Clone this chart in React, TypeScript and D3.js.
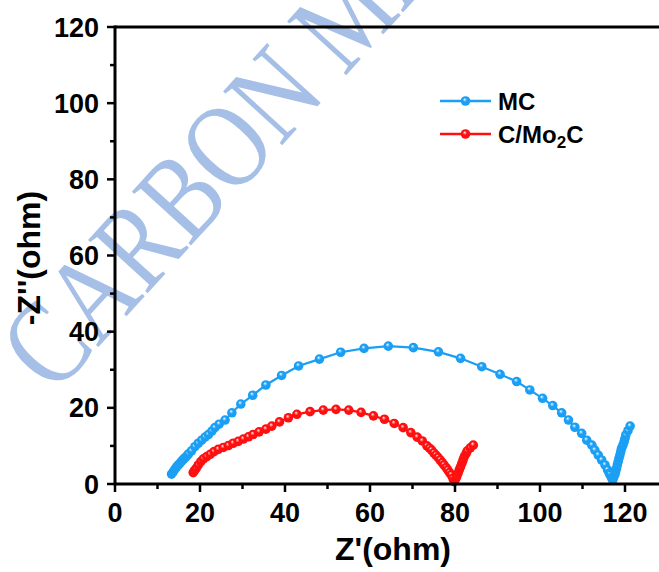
import React from "react";
import * as d3 from "d3";

const mcZre = [13.3,13.7,14.1,14.5,14.9,15.3,15.7,16.1,16.5,16.9,17.3,18.0,18.8,19.6,20.4,21.2,22.0,22.8,23.5,24.5,25.9,27.5,29.6,32.4,35.5,39.2,43.2,48.1,53.1,58.6,64.3,70.2,76.1,81.3,86.3,90.6,94.5,97.6,100.6,103.0,105.1,106.7,108.2,109.8,111.0,112.2,112.9,113.7,114.5,115.3,115.9,116.3,116.5,116.8,117.1,117.3,117.6,117.8,118.0,118.2,118.4,118.6,118.8,119.0,119.2,119.5,119.8,120.0,120.2,120.7,121.2];
const mcZim = [2.6,3.2,3.9,4.5,5.0,5.5,6.0,6.5,6.9,7.4,7.9,8.7,9.8,10.7,11.5,12.3,13.0,13.9,14.8,15.7,16.8,18.7,21.0,23.3,26.0,28.5,31.0,32.8,34.6,35.6,36.2,35.8,34.7,33.0,30.8,28.8,26.9,24.7,22.5,20.6,18.7,16.8,14.9,13.3,11.5,10.2,8.9,7.6,6.3,5.0,3.7,2.8,2.4,1.7,1.0,1.7,2.4,3.2,4.1,5.0,5.9,6.8,7.6,8.5,9.4,10.2,11.1,12.0,12.9,14.0,15.2];

const cmZre = [18.4,18.7,19.1,19.6,20.2,20.8,21.6,22.4,23.3,24.3,25.5,26.7,27.8,29.0,30.2,31.4,32.5,33.9,35.5,36.9,38.7,40.8,42.8,45.9,49.0,52.0,55.0,57.9,60.8,63.4,65.7,67.8,69.6,71.1,72.3,73.4,74.0,74.5,75.0,75.5,76.0,76.5,77.0,77.4,77.9,78.3,78.7,79.1,79.5,79.8,80.1,80.4,80.7,81.0,81.3,81.6,81.9,82.2,82.6,82.9,83.6,84.3];
const cmZim = [3.0,3.5,4.1,5.0,5.9,6.6,7.2,7.8,8.5,9.1,9.6,10.1,10.7,11.2,11.8,12.4,13.0,13.7,14.4,15.2,16.3,17.4,18.3,19.0,19.4,19.6,19.4,18.8,17.9,17.0,15.9,14.8,13.5,12.3,11.3,10.0,9.4,8.9,8.2,7.6,7.0,6.3,5.6,5.0,4.3,3.7,3.0,2.4,1.5,0.6,1.2,1.9,2.8,3.7,4.5,5.4,6.3,7.2,8.0,8.7,9.5,10.2];

const xMajor = [0, 20, 40, 60, 80, 100, 120];
const xMinor = [10, 30, 50, 70, 90, 110];
const yMajor = [0, 20, 40, 60, 80, 100, 120];
const yMinor = [10, 30, 50, 70, 90, 110];

const seriesNames = ["MC", "C/Mo2C"];
const seriesColors = ["#1a9ff5", "#ff1010"];
const seriesLight = ["#9fd8ff", "#ff9c9c"];

const W = 659, H = 572;
const FONT = "Arial, 'Liberation Sans', sans-serif";

export default function App() {
  const x = d3.scaleLinear().domain([0, 130]).range([115, 667.5]);
  const y = d3.scaleLinear().domain([0, 120]).range([484, 27]);
  const line = d3.line<[number, number]>().x(d => x(d[0])).y(d => y(d[1]));

  const series = [
    mcZre.map((v, i) => [v, mcZim[i]] as [number, number]),
    cmZre.map((v, i) => [v, cmZim[i]] as [number, number]),
  ];

  const axisW = 3;
  return (
    <svg width={W} height={H} style={{ position: "fixed", left: 0, top: 0, background: "#fff" }}>
      <defs>
        {seriesColors.map((c, i) => (
          <radialGradient key={i} id={`ball${i}`} cx="50%" cy="50%" r="55%" fx="40%" fy="32%">
            <stop offset="0%" stopColor="#ffffff" />
            <stop offset="14%" stopColor={seriesLight[i]} />
            <stop offset="40%" stopColor={c} />
            <stop offset="100%" stopColor={c} />
          </radialGradient>
        ))}
      </defs>
      <rect width={W} height={H} fill="#fff" />
      {/* watermark */}
      <text
        x={0}
        y={0}
        transform="translate(54,396) rotate(-47.7) scale(0.8,1)"
        fontFamily="'Liberation Serif', 'Times New Roman', serif"
        fontSize={122}
        fill="#a6bfe6"
      >
        CARBON  MATERIALS
      </text>

      {/* series */}
      {series.map((pts, si) => (
        <g key={si}>
          <path d={line(pts) || ""} fill="none" stroke={seriesColors[si]} strokeWidth={2.2} />
          {pts.map((p, i) => (
            <circle key={i} cx={x(p[0])} cy={y(p[1])} r={4.8} fill={`url(#ball${si})`} />
          ))}
        </g>
      ))}

      {/* axes */}
      <line x1={x(0)} x2={W + 10} y1={y(120)} y2={y(120)} stroke="#000" strokeWidth={axisW} />
      <line x1={x(0)} x2={W + 10} y1={y(0)} y2={y(0)} stroke="#000" strokeWidth={axisW} />
      <line x1={x(0)} x2={x(0)} y1={y(120) - 1.5} y2={y(0) + 1.5} stroke="#000" strokeWidth={axisW} />
      {xMajor.map(v => (
        <line key={"xM" + v} x1={x(v)} x2={x(v)} y1={y(0)} y2={y(0) + 8} stroke="#000" strokeWidth={2.5} />
      ))}
      {xMinor.map(v => (
        <line key={"xm" + v} x1={x(v)} x2={x(v)} y1={y(0)} y2={y(0) + 5} stroke="#000" strokeWidth={2.5} />
      ))}
      {yMajor.map(v => (
        <line key={"yM" + v} x1={x(0) - 8} x2={x(0)} y1={y(v)} y2={y(v)} stroke="#000" strokeWidth={2.5} />
      ))}
      {yMinor.map(v => (
        <line key={"ym" + v} x1={x(0) - 5} x2={x(0)} y1={y(v)} y2={y(v)} stroke="#000" strokeWidth={2.5} />
      ))}
      {xMajor.map(v => (
        <text key={"xl" + v} x={x(v)} y={522} textAnchor="middle" fontFamily={FONT} fontWeight="bold" fontSize={27} fill="#000">
          {v}
        </text>
      ))}
      {yMajor.map(v => (
        <text key={"yl" + v} x={99} y={y(v) + 9.5} textAnchor="end" fontFamily={FONT} fontWeight="bold" fontSize={27} fill="#000">
          {v}
        </text>
      ))}
      <text x={393} y={560} textAnchor="middle" fontFamily={FONT} fontWeight="bold" fontSize={32} fill="#000">
        Z'(ohm)
      </text>
      <text x={40} y={258} transform="rotate(-90 40 258)" textAnchor="middle" fontFamily={FONT} fontWeight="bold" fontSize={32} fill="#000">
        -Z''(ohm)
      </text>

      {/* legend */}
      {seriesNames.map((n, i) => {
        const ly = 101 + i * 33;
        return (
          <g key={n}>
            <line x1={440} x2={491} y1={ly} y2={ly} stroke={seriesColors[i]} strokeWidth={2.5} />
            <circle cx={465.5} cy={ly} r={4.8} fill={`url(#ball${i})`} />
            <text x={498} y={ly + 9} fontFamily={FONT} fontWeight="bold" fontSize={24} fill="#000">
              {i === 0 ? "MC" : (<>C/Mo<tspan fontSize={17} dy={5}>2</tspan><tspan dy={-5}>C</tspan></>)}
            </text>
          </g>
        );
      })}
    </svg>
  );
}
